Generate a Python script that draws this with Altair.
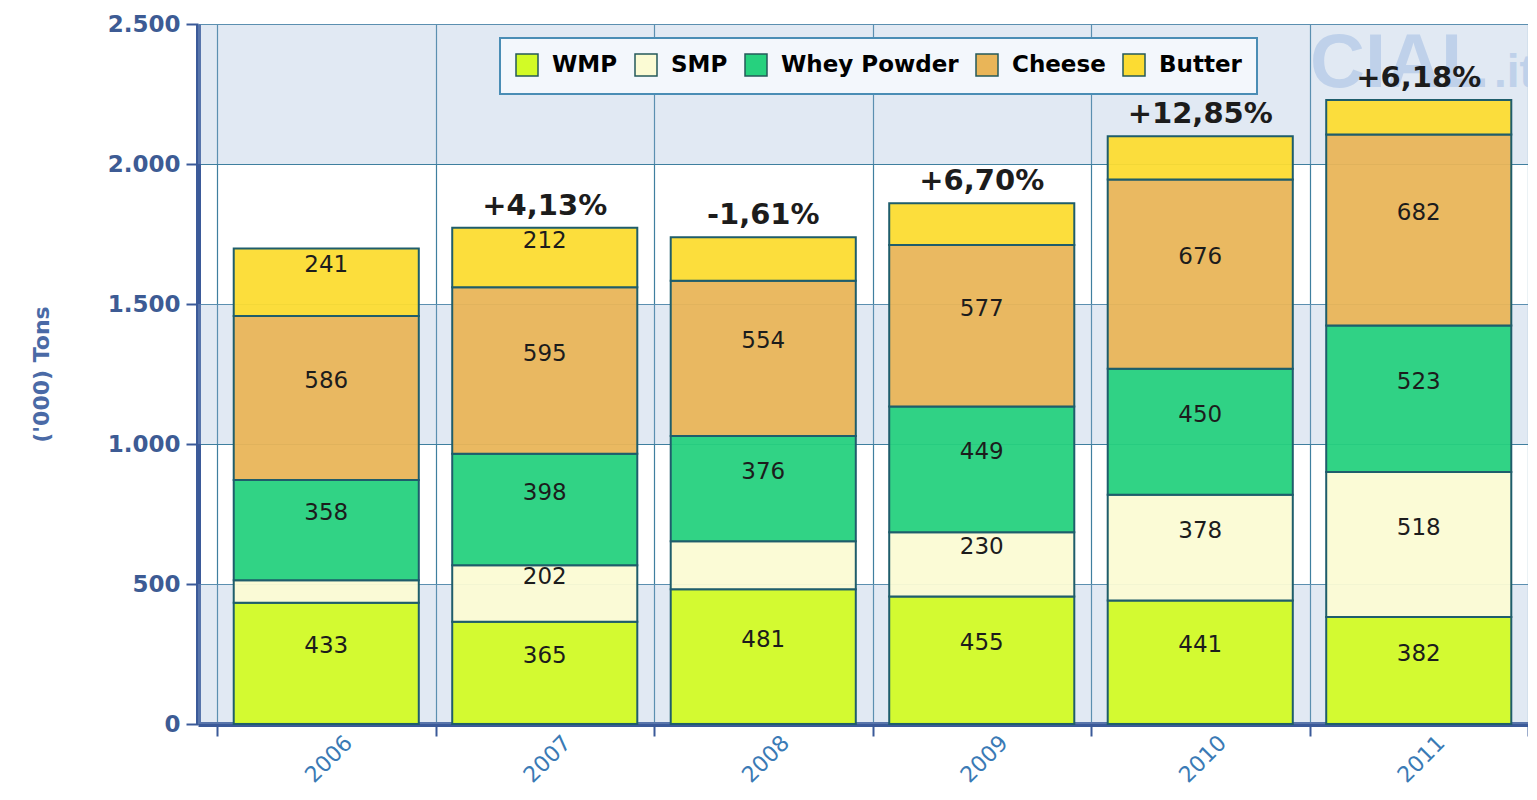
import altair as alt
import pandas as pd

years = ["2006", "2007", "2008", "2009", "2010", "2011"]
products = ["WMP", "SMP", "Whey Powder", "Cheese", "Butter"]
wmp = [433, 365, 481, 455, 441, 382]
smp = [80, 202, 172, 230, 378, 518]
whey = [358, 398, 376, 449, 450, 523]
cheese = [586, 595, 554, 577, 676, 682]
butter = [241, 212, 155, 149, 154, 124]
pct_labels = ["", "+4,13%", "-1,61%", "+6,70%", "+12,85%", "+6,18%"]
colors = ["#d2fb26", "#fbfbd4", "#26d17e", "#e9b558", "#fcdc32"]
y_ticks = [0, 500, 1000, 1500, 2000, 2500]
band_lo = [0, 1000, 2000]
band_hi = [500, 1500, 2500]
watermark_main = ["CIAL"]
watermark_ext = [".it"]

series = [wmp, smp, whey, cheese, butter]
rows = []
for i, yr in enumerate(years):
    for j, p in enumerate(products):
        rows.append({"year": yr, "product": p, "order": j,
                     "value": series[j][i], "pct": pct_labels[i]})
df = pd.DataFrame(rows)
bands = pd.DataFrame({"lo": band_lo, "hi": band_hi})

W, H = 1330, 700
FONT = "DejaVu Sans"
Y_TITLE = "('000) Tons"

x_scale = alt.Scale(domain=years, paddingInner=0, paddingOuter=0.0435, align=1)
y_scale = alt.Scale(domain=[0, 2500], nice=False, zero=True)

x_axis = alt.Axis(
    tickBand="extent", grid=True, gridColor="#3f7f9f", gridWidth=1.2,
    domainColor="#3b5a99", domainWidth=5, tickColor="#3b5a99", tickWidth=2,
    tickSize=12, labelAngle=-45, labelAlign="right", labelBaseline="middle",
    labelOffset=22, labelPadding=3, labelFont=FONT, labelFontSize=22,
    labelColor="#3a7ab5", title=None)
y_axis = alt.Axis(
    values=y_ticks, grid=True, gridColor="#3f7f9f", gridWidth=1.2,
    domainColor="#3b5a99", domainWidth=5, tickColor="#3b5a99", tickWidth=2,
    tickSize=12, labelPadding=6, labelFont=FONT, labelFontSize=23,
    labelFontWeight="bold", labelColor="#3d5b94",
    labelExpr="replace(format(datum.value, ','), ',', '.')",
    title=Y_TITLE, titleFont=FONT, titleFontSize=22, titleFontWeight="bold",
    titleColor="#4a6aa6", titlePadding=54)

bg = alt.Chart(bands).mark_rect(color="#9ab6d7", opacity=0.3).encode(
    y=alt.Y("lo:Q", scale=y_scale, axis=y_axis, title=Y_TITLE),
    y2="hi:Q",
    x=alt.value(0),
    x2=alt.value(W),
)

wm1 = alt.Chart(pd.DataFrame({"t": watermark_main})).mark_text(
    font="Liberation Sans", fontSize=76, fontWeight="bold", color="#bfd1ea",
    align="left", baseline="alphabetic"
).encode(text="t:N", x=alt.value(1112), y=alt.value(63))

wm2 = alt.Chart(pd.DataFrame({"t": watermark_ext})).mark_text(
    font="Liberation Sans", fontSize=46, fontWeight="bold", color="#bfd1ea",
    align="left", baseline="alphabetic"
).encode(text="t:N", x=alt.value(1296), y=alt.value(63))

base = alt.Chart(df).transform_stack(
    stack="value", groupby=["year"], as_=["v0", "v1"],
    sort=[alt.SortField("order", order="ascending")]
)

bars = base.mark_bar(stroke="#1f5d6b", strokeWidth=2, fillOpacity=0.95,
                     width={"band": 0.847}).encode(
    x=alt.X("year:O", scale=x_scale, axis=x_axis, title=None),
    y=alt.Y("v0:Q", scale=y_scale, axis=y_axis, title=Y_TITLE),
    y2="v1:Q",
    color=alt.Color("product:N", scale=alt.Scale(domain=products, range=colors),
                    legend=alt.Legend(
                        title=None, orient="none", legendX=302, legendY=14,
                        direction="horizontal", fillColor="#f3f7fc",
                        strokeColor="#4a8db5", padding=15,
                        symbolType="square", symbolSize=484,
                        symbolStrokeColor="#245a5a", symbolStrokeWidth=1.5,
                        labelFont=FONT, labelFontSize=23, labelFontWeight="bold",
                        labelColor="#000000", labelOffset=13, columnPadding=14,
                        labelLimit=400)),
)

vals = base.transform_calculate(mid="(datum.v0 + datum.v1) / 2").transform_filter(
    "datum.value >= 200"
).mark_text(font=FONT, fontSize=23, color="#1c1c1c", dy=-17, baseline="middle").encode(
    x=alt.X("year:O", scale=x_scale, axis=x_axis, title=None),
    y=alt.Y("mid:Q", scale=y_scale, axis=y_axis, title=Y_TITLE),
    text="value:Q",
)

pcts = alt.Chart(df).transform_joinaggregate(
    total="sum(value)", groupby=["year"]
).transform_filter("datum.product == 'Butter' && datum.pct != ''").mark_text(
    font=FONT, fontSize=29, fontWeight="bold", color="#1c1c1c", dy=-13,
    baseline="alphabetic"
).encode(
    x=alt.X("year:O", scale=x_scale, axis=x_axis, title=None),
    y=alt.Y("total:Q", scale=y_scale, axis=y_axis, title=Y_TITLE),
    text="pct:N",
)

chart = alt.layer(bg, wm1, wm2, bars, vals, pcts).properties(
    width=W, height=H,
    padding={"left": 190, "top": 16, "right": 0, "bottom": 68},
    autosize=alt.AutoSizeParams(type="none"),
).configure_view(stroke=None, fill="#f2f6fb").configure(
    background="#ffffff"
).configure_legend(strokeWidth=2)

chart.save("out.html", embed_options={"renderer": "svg", "actions": False})
